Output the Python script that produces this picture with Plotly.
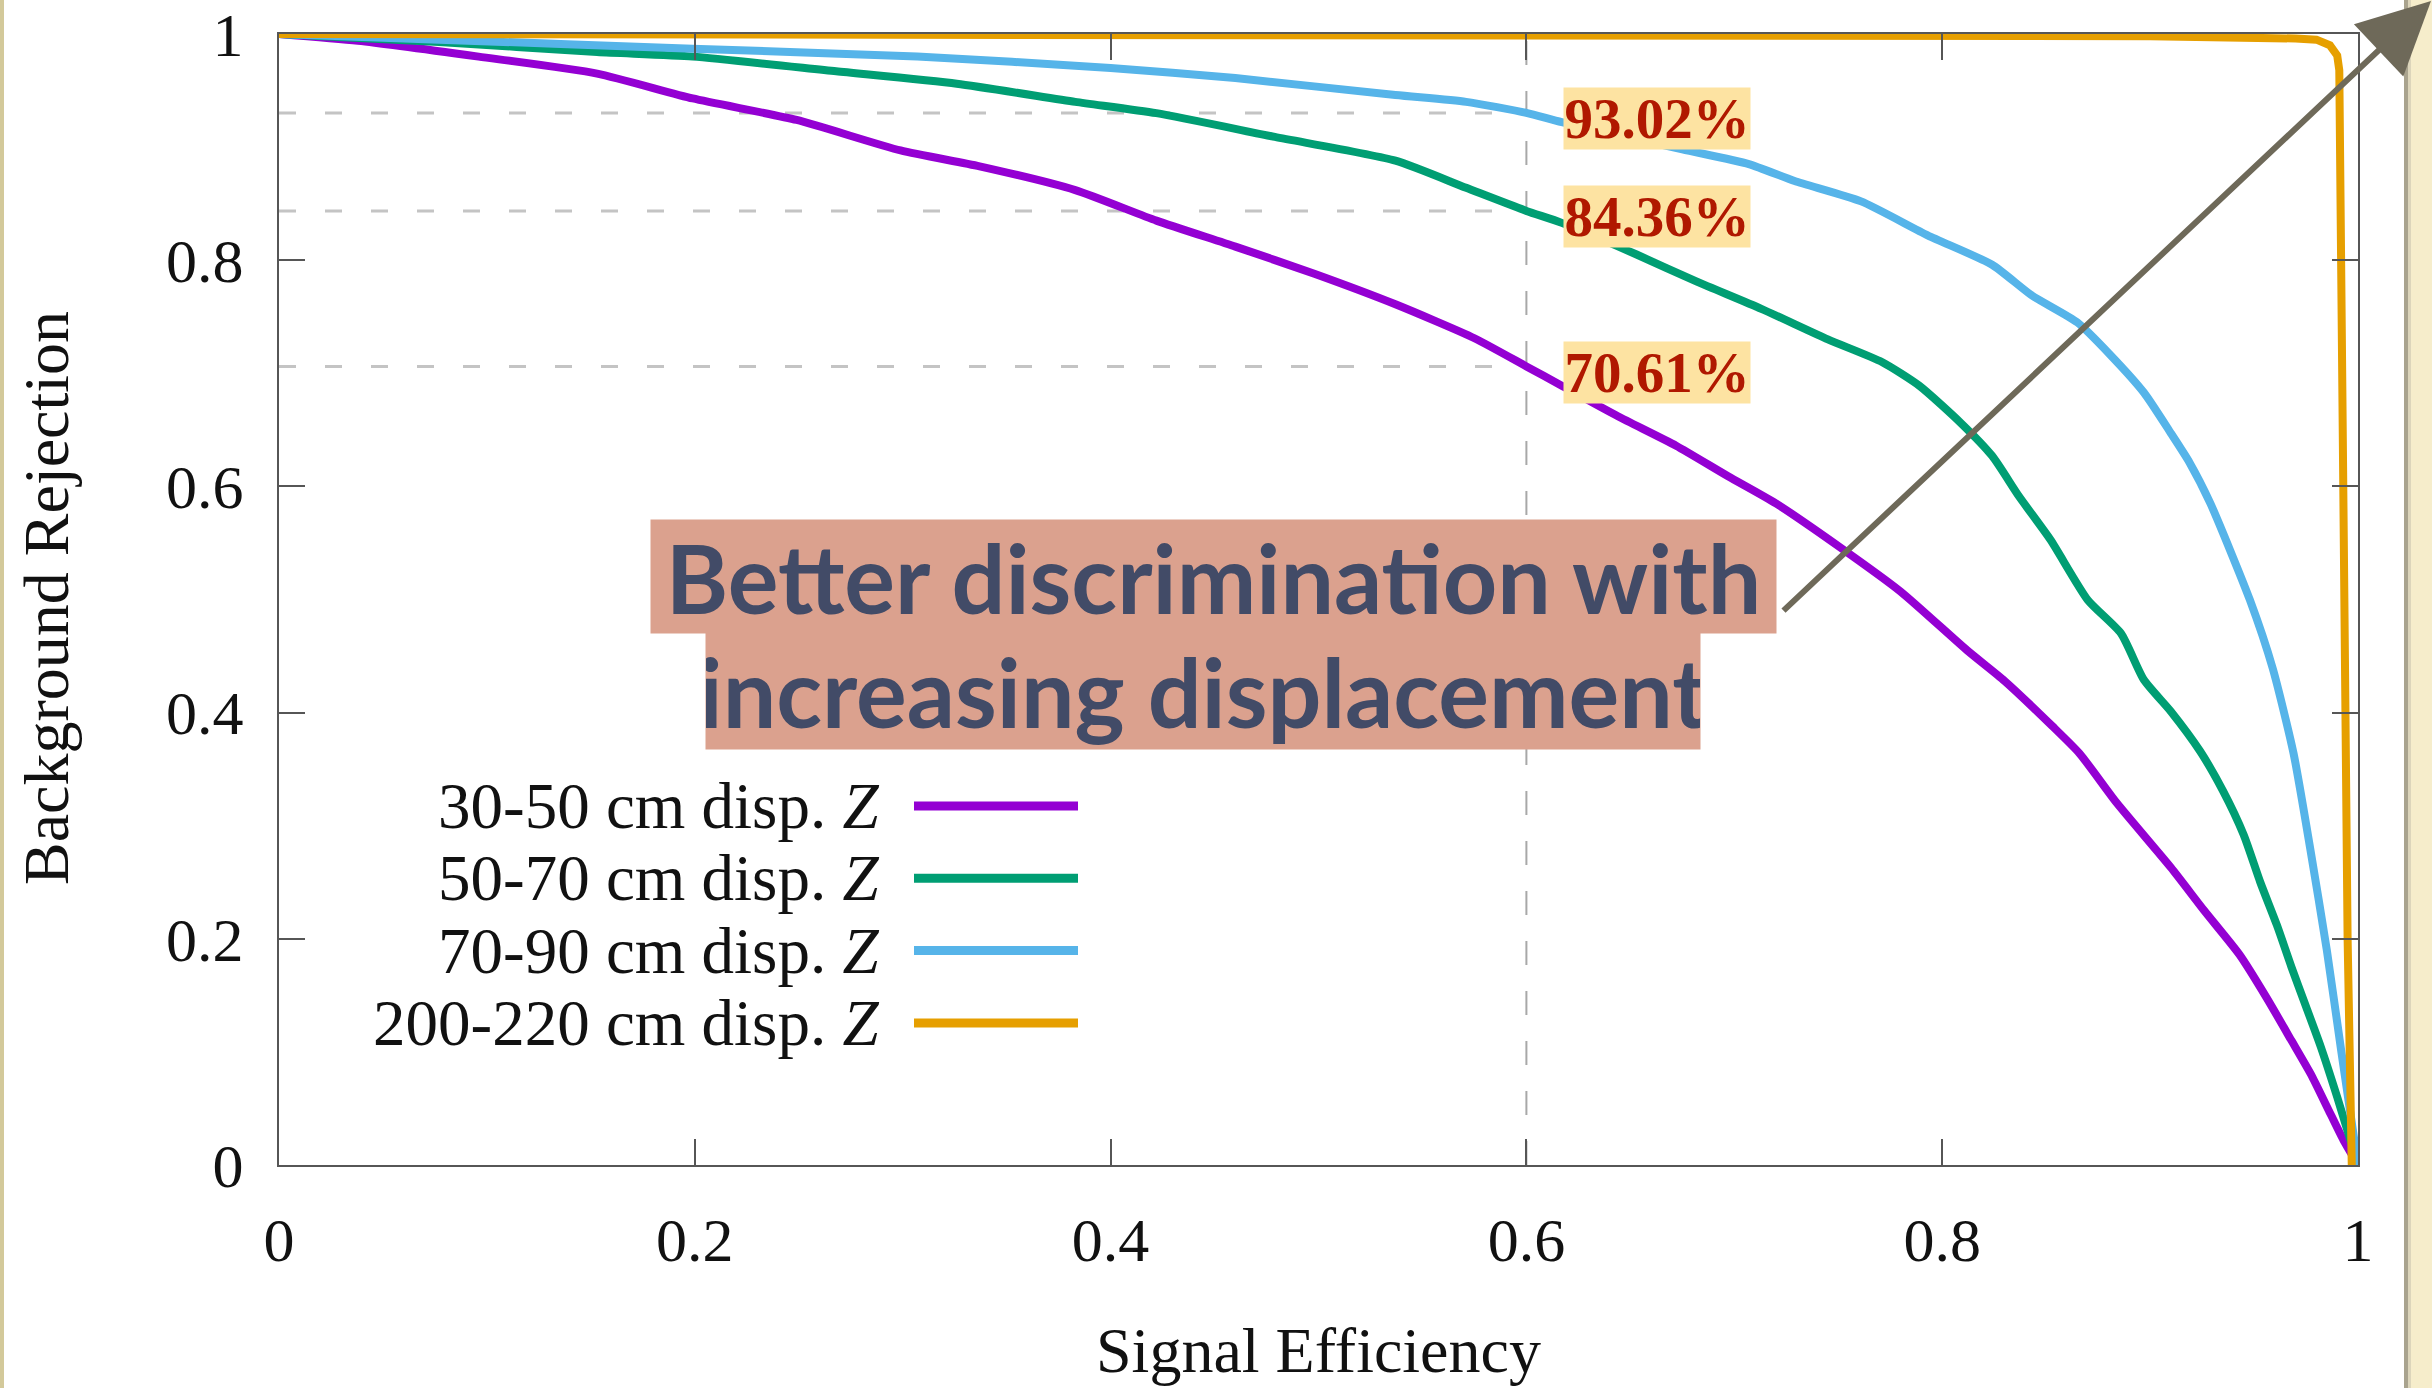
import plotly.graph_objects as go

# ROC curves: background rejection vs signal efficiency, per displacement bin
eff_30_50 = [0, 0.038, 0.096, 0.153, 0.199, 0.249, 0.299, 0.337, 0.383, 0.422, 0.460, 0.498,
             0.537, 0.575, 0.600, 0.617, 0.644, 0.672, 0.697, 0.720, 0.751, 0.780, 0.812,
             0.830, 0.853, 0.866, 0.884, 0.910, 0.926, 0.943, 0.956, 0.968, 0.978, 0.986,
             0.993, 1.0]
rej_30_50 = [1.0, 0.994, 0.980, 0.965, 0.943, 0.924, 0.897, 0.883, 0.862, 0.835, 0.812, 0.788,
             0.761, 0.731, 0.7061, 0.689, 0.662, 0.636, 0.609, 0.585, 0.546, 0.507, 0.455,
             0.428, 0.388, 0.364, 0.320, 0.263, 0.225, 0.186, 0.148, 0.110, 0.078, 0.048,
             0.022, 0.0]

eff_50_70 = [0, 0.077, 0.153, 0.199, 0.268, 0.326, 0.383, 0.422, 0.479, 0.537, 0.571, 0.600,
             0.617, 0.653, 0.682, 0.713, 0.745, 0.771, 0.789, 0.809, 0.824, 0.837, 0.852,
             0.870, 0.886, 0.897, 0.910, 0.924, 0.935, 0.945, 0.953, 0.961, 0.968, 0.975,
             0.982, 0.990, 1.0]
rej_50_70 = [1.0, 0.993, 0.984, 0.980, 0.967, 0.956, 0.940, 0.930, 0.909, 0.888, 0.864, 0.8436,
             0.833, 0.805, 0.781, 0.757, 0.730, 0.710, 0.689, 0.656, 0.627, 0.591, 0.553,
             0.4996, 0.470, 0.429, 0.401, 0.366, 0.331, 0.292, 0.250, 0.212, 0.175, 0.140,
             0.105, 0.060, 0.0]

eff_70_90 = [0, 0.077, 0.199, 0.307, 0.400, 0.460, 0.537, 0.571, 0.600, 0.617, 0.675, 0.707,
             0.729, 0.761, 0.793, 0.824, 0.843, 0.865, 0.881, 0.897, 0.910, 0.919, 0.929,
             0.948, 0.959, 0.969, 0.977, 0.985, 0.992, 1.0]
rej_70_90 = [1.0, 0.995, 0.987, 0.980, 0.970, 0.961, 0.946, 0.940, 0.9302, 0.922, 0.898, 0.885,
             0.870, 0.852, 0.822, 0.796, 0.769, 0.745, 0.716, 0.683, 0.647, 0.621, 0.585,
             0.4996, 0.439, 0.364, 0.280, 0.190, 0.100, 0.0]

eff_200_220 = [0, 0.5, 0.9, 0.97, 0.980, 0.9865, 0.990, 0.991, 0.992, 0.993, 0.995, 0.997]
rej_200_220 = [1.0, 0.999, 0.998, 0.996, 0.995, 0.990, 0.981, 0.968, 0.8, 0.5, 0.2, 0.0]

series_names = ["30-50 cm disp. <i>Z</i>", "50-70 cm disp. <i>Z</i>",
                "70-90 cm disp. <i>Z</i>", "200-220 cm disp. <i>Z</i>"]
series_colors = ["#9400d3", "#009e73", "#56b4e9", "#e69f00"]
series_eff = [eff_30_50, eff_50_70, eff_70_90, eff_200_220]
series_rej = [rej_30_50, rej_50_70, rej_70_90, rej_200_220]
series_shape = ["spline", "spline", "spline", "linear"]

# working point and the rejection reached there by the first three bins
wp_eff = 0.6
wp_rej = [0.9302, 0.8436, 0.7061]

tick_vals = [0, 0.2, 0.4, 0.6, 0.8, 1.0]
tick_text = ["0", "0.2", "0.4", "0.6", "0.8", "1"]

# page geometry
W, H = 2432, 1388
L, R, T, B = 279, 2358, 34, 1165


def px(xp):
    return (xp - L) / (R - L)


def py(yp):
    return (B - yp) / (B - T)


SERIF = "Liberation Serif, Times New Roman, serif"
AX = "#565656"

fig = go.Figure()

# guide lines to the working point
for r in wp_rej:
    fig.add_trace(go.Scatter(x=[0, wp_eff], y=[r, r], mode="lines", hoverinfo="skip",
                             line=dict(color="#c4c4c4", width=3, dash="17px,29px"),
                             showlegend=False))
fig.add_trace(go.Scatter(x=[wp_eff, wp_eff], y=[0, 1], mode="lines", hoverinfo="skip",
                         line=dict(color="#a8a8a8", width=2, dash="24px,26px"),
                         showlegend=False))

for xs, ys, c, shp in zip(series_eff, series_rej, series_colors, series_shape):
    fig.add_trace(go.Scatter(x=xs, y=ys, mode="lines",
                             line=dict(color=c, width=8, shape=shp, smoothing=0.6),
                             showlegend=False))

ann = []
shapes = []

# working-point labels
for r in wp_rej:
    ann.append(dict(x=0.6176, y=r - 0.005, xref="x", yref="y", xanchor="left",
                    yanchor="middle", text="<b>%.2f%%</b>" % (r * 100), showarrow=False,
                    width=186, height=61, borderpad=0, bgcolor="#fde3a2",
                    font=dict(family=SERIF, size=57, color="#b01800")))

# hand-made legend: text right-aligned, sample line on the right
leg_y0, leg_dy = 806, 72.3
for i, (name, c) in enumerate(zip(series_names, series_colors)):
    yy = py(leg_y0 + i * leg_dy)
    ann.append(dict(x=px(881), y=yy, xref="paper", yref="paper", xanchor="right",
                    yanchor="middle", text=name, showarrow=False,
                    font=dict(family=SERIF, size=65, color="#111111")))
    shapes.append(dict(type="line", xref="paper", yref="paper", x0=px(914), x1=px(1078),
                       y0=yy, y1=yy, line=dict(color=c, width=9)))

# axis titles
ann.append(dict(x=0.5, y=py(1350), xref="paper", yref="paper", xanchor="center",
                yanchor="middle", text="Signal Efficiency", showarrow=False,
                font=dict(family=SERIF, size=64, color="#111111")))
ann.append(dict(x=px(46), y=py(598), xref="paper", yref="paper", xanchor="center",
                yanchor="middle", text="Background Rejection", showarrow=False,
                textangle=-90, font=dict(family=SERIF, size=64, color="#111111")))

# callout
CALL_FONT = dict(family="Lato, Open Sans, sans-serif", size=95, color="#424b67")
ann.append(dict(x=px(1213.5), y=py(576.5), xref="paper", yref="paper", xanchor="center",
                yanchor="middle", text="<b>Better discrimination with</b>", showarrow=False,
                width=1125, height=113, borderpad=0, bgcolor="#dba18e", font=CALL_FONT))
ann.append(dict(x=px(1203), y=py(691), xref="paper", yref="paper", xanchor="center",
                yanchor="middle", text="<b>increasing displacement</b>", showarrow=False,
                width=994, height=116, borderpad=0, bgcolor="#dba18e", font=CALL_FONT))

# arrow pointing to the upper right
tip_x, tip_y = 2434, -20
tail_x, tail_y = 1782, 612
ann.append(dict(x=px(tip_x), y=py(tip_y), xref="paper", yref="paper", text="",
                showarrow=True, ax=tail_x - tip_x, ay=tail_y - tip_y, arrowhead=2,
                arrowsize=2.4, arrowwidth=6, arrowcolor="#6e6959", standoff=0))

# page edges
shapes += [
    dict(type="rect", xref="paper", yref="paper", x0=px(2404), x1=px(W + 2), y0=py(H + 2),
         y1=py(-2), fillcolor="#f6edcb", line=dict(width=0), layer="below"),
    dict(type="rect", xref="paper", yref="paper", x0=px(2404), x1=px(2408), y0=py(H + 2),
         y1=py(-2), fillcolor="#a9a38e", line=dict(width=0), layer="below"),
    dict(type="rect", xref="paper", yref="paper", x0=px(2408), x1=px(2411), y0=py(H + 2),
         y1=py(-2), fillcolor="#dcd5bb", line=dict(width=0), layer="below"),
    dict(type="rect", xref="paper", yref="paper", x0=px(-2), x1=px(4), y0=py(H + 2),
         y1=py(-2), fillcolor="#d3c99a", line=dict(width=0), layer="below"),
]

axis_common = dict(range=[0, 1], tickvals=tick_vals, ticktext=tick_text, ticks="inside",
                   ticklen=26, tickwidth=2, tickcolor=AX, showline=True, linecolor=AX,
                   linewidth=2, mirror="ticks", showgrid=False, zeroline=False,
                   automargin=False,
                   tickfont=dict(family=SERIF, size=62, color="#111111"))

fig.update_layout(
    width=W, height=H,
    margin=dict(l=L, r=W - R, t=T, b=H - B, pad=0, autoexpand=False),
    paper_bgcolor="white", plot_bgcolor="white",
    xaxis=dict(**axis_common, ticklabelstandoff=20),
    yaxis=dict(**axis_common, ticklabelstandoff=21),
    annotations=ann, shapes=shapes, showlegend=False,
)

fig.write_html("out.html")
